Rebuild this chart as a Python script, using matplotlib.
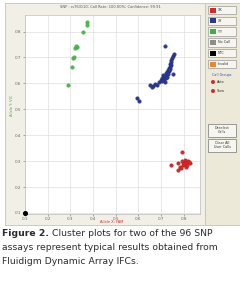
import matplotlib
matplotlib.use("Agg")
import matplotlib.pyplot as plt
from matplotlib.patches import Rectangle, Circle

# ---- data ----
green_x = [0.373, 0.373, 0.355, 0.329, 0.320, 0.325, 0.311, 0.315, 0.307, 0.289]
green_y = [0.837, 0.826, 0.799, 0.741, 0.737, 0.744, 0.698, 0.702, 0.664, 0.594]

blue_x = [0.717, 0.752, 0.756, 0.748, 0.745, 0.742, 0.739, 0.744, 0.739, 0.734,
          0.730, 0.736, 0.741, 0.726, 0.722, 0.731, 0.752, 0.708, 0.715, 0.726,
          0.704, 0.712, 0.720, 0.698, 0.717, 0.705, 0.690, 0.681, 0.672, 0.665,
          0.659, 0.651, 0.593, 0.602]
blue_y = [0.745, 0.706, 0.712, 0.698, 0.690, 0.683, 0.676, 0.670, 0.664, 0.658,
          0.652, 0.648, 0.655, 0.645, 0.640, 0.638, 0.637, 0.633, 0.630, 0.625,
          0.621, 0.618, 0.622, 0.615, 0.606, 0.610, 0.604, 0.594, 0.598, 0.590,
          0.586, 0.594, 0.544, 0.533]

red_x = [0.792, 0.743, 0.774, 0.783, 0.774, 0.796, 0.805, 0.809, 0.818, 0.827,
         0.809, 0.787, 0.796, 0.800, 0.814, 0.790, 0.822]
red_y = [0.336, 0.285, 0.293, 0.278, 0.266, 0.297, 0.305, 0.293, 0.301, 0.293,
         0.278, 0.274, 0.285, 0.288, 0.286, 0.300, 0.298]

ntc_x = [0.1]
ntc_y = [0.1]

x_ticks = [0.1, 0.2, 0.3, 0.4, 0.5, 0.6, 0.7, 0.8]
y_ticks = [0.1, 0.2, 0.3, 0.4, 0.5, 0.6, 0.7, 0.8]

caption_bold = "Figure 2."
caption_rest = [" Cluster plots for two of the 96 SNP",
                "assays represent typical results obtained from",
                "Fluidigm Dynamic Array IFCs."]

legend_buttons = [("XX", "#d42a2a"), ("XY", "#2b3a8f"), ("YY", "#3cb043"),
                  ("No Call", "#8c8c8c"), ("NTC", "#000000"), ("Invalid", "#e8892f")]

W, H = 240, 281
fig = plt.figure(figsize=(W / 100, H / 100), dpi=100)
fig.patch.set_facecolor("white")

# background / UI layer in pixel coordinates
bg = fig.add_axes([0, 0, 1, 1])
bg.set_xlim(0, W)
bg.set_ylim(H, 0)
bg.axis("off")
bg.add_patch(Rectangle((5, 3), 200, 222, facecolor="#f2f0e6", edgecolor="#c9c4b0", lw=0.6))
bg.add_patch(Rectangle((205, 3), 35, 222, facecolor="#ece9d8", edgecolor="#c9c4b0", lw=0.6))

# title text
bg.text(110, 7.5, "SNP : rs763110; Call Rate: 100.00%; Confidence: 99.91",
        fontsize=2.6, color="#555555", ha="center", va="center")
# axis labels (as in the screenshot)
bg.text(12, 105, "Allele Y: VIC", fontsize=2.6, color="#3cb043", rotation=90,
        ha="center", va="center")
bg.text(112, 222, "Allele X: FAM", fontsize=2.6, color="#d42a2a",
        ha="center", va="center")

# legend buttons
y0 = 10
for i, (lab, col) in enumerate(legend_buttons):
    yc = y0 + i * 10.8
    bg.add_patch(Rectangle((208, yc - 4.2), 28, 8.4, facecolor="#f6f5ef",
                           edgecolor="#9a9a9a", lw=0.5))
    bg.add_patch(Rectangle((210, yc - 2.5), 6, 5, facecolor=col, edgecolor="none"))
    bg.text(217.5, yc, lab, fontsize=2.4, color="#333333", va="center", ha="left")
bg.text(222, 75, "Call Groups", fontsize=2.4, color="#3050c0", ha="center", va="center")
for j, lab in enumerate(["Auto", "Slow"]):
    yc = 82 + j * 9
    bg.add_patch(Circle((213, yc), 2.0, facecolor="#d42a2a", edgecolor="none"))
    bg.text(217, yc, lab, fontsize=2.4, color="#333333", va="center", ha="left")
for j, lab in enumerate(["Deselect\nCalls", "Clear All\nUser Calls"]):
    yc = 130 + j * 15.5
    bg.add_patch(Rectangle((208, yc - 6.5), 28, 13, facecolor="#f6f5ef",
                           edgecolor="#8a8a8a", lw=0.6))
    bg.text(222, yc, lab, fontsize=2.4, color="#333333", va="center", ha="center",
            linespacing=1.0)

# caption: fit line 2 to the width seen in the reference (~215 px)
probe = bg.text(0, 0, caption_rest[1], fontsize=10)
fig.canvas.draw()
w10 = probe.get_window_extent().width
probe.remove()
cap_fs = 10 * 215 / w10
cap_col = "#2b2b2b"
t = bg.text(2, 234, caption_bold, fontsize=cap_fs, fontweight="bold", color=cap_col,
            va="center", ha="left")
fig.canvas.draw()
x_after = t.get_window_extent().x1
bg.text(x_after, 234, caption_rest[0], fontsize=cap_fs, color=cap_col, va="center", ha="left")
bg.text(2, 248, caption_rest[1], fontsize=cap_fs, color=cap_col, va="center", ha="left")
bg.text(2, 262, caption_rest[2], fontsize=cap_fs, color=cap_col, va="center", ha="left")

# plot axes
left, right, top, bottom = 25, 200, 15, 214
ax = fig.add_axes([left / W, (H - bottom) / H, (right - left) / W, (bottom - top) / H])
ax.set_facecolor("white")
ax.set_xlim(0.1, 0.871)
ax.set_ylim(0.096, 0.864)
ax.set_xticks(x_ticks)
ax.set_yticks(y_ticks)
ax.set_xticklabels([f"{v:.1f}" for v in x_ticks])
ax.set_yticklabels([f"{v:.1f}" for v in y_ticks])
ax.tick_params(labelsize=3.0, colors="#666666", length=1.5, width=0.4, pad=1)
ax.grid(True, color="#dedede", lw=0.5)
ax.set_axisbelow(True)
for s in ax.spines.values():
    s.set_color("#bdbdbd")
    s.set_linewidth(0.5)

ms = 7
ax.scatter(green_x, green_y, s=ms, color="#4cbb4c", edgecolors="#2f9a35", linewidths=0.2, zorder=3)
ax.scatter(blue_x, blue_y, s=ms, color="#2b3a8f", edgecolors="#1c2670", linewidths=0.2, zorder=3)
ax.scatter(red_x, red_y, s=ms, color="#d42a2a", edgecolors="#a01818", linewidths=0.2, zorder=3)
ax.scatter(ntc_x, ntc_y, s=ms, color="#000000", zorder=4, clip_on=False)

fig.savefig("out.png", dpi=100)
